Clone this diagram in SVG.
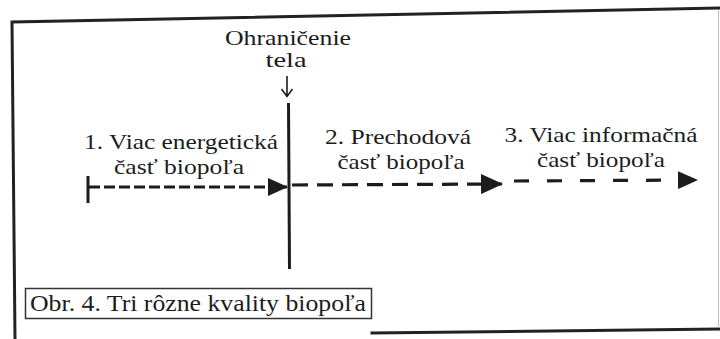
<svg xmlns="http://www.w3.org/2000/svg" width="720" height="339" viewBox="0 0 720 339">
  <style>
    .frame { fill: none; stroke: #222; stroke-width: 3; stroke-linecap: square; }
    .lbl { font-family: "Liberation Serif", "DejaVu Serif", serif; fill: #1c1c1c; text-anchor: middle; }
    .big { font-size: 22px; }
    .top { font-size: 21px; }
    .cap { font-size: 23px; }
    .solid { stroke: #1c1c1c; stroke-width: 3; fill: none; }
    .thin { stroke: #1c1c1c; stroke-width: 1.6; fill: none; }
    .dash { stroke: #1c1c1c; stroke-width: 3.2; fill: none; }
    .head { fill: #1c1c1c; }
  </style>
  <defs>
    <marker id="tri" viewBox="0 0 20 18" refX="19" refY="9" markerWidth="20" markerHeight="18" markerUnits="userSpaceOnUse" orient="auto">
      <path d="M0,0 L20,9 L0,18 Z" class="head"/>
    </marker>
    <marker id="tri-l" viewBox="0 0 22 20" refX="21" refY="10" markerWidth="22" markerHeight="20" markerUnits="userSpaceOnUse" orient="auto">
      <path d="M0,0 L22,10 L0,20 Z" class="head"/>
    </marker>
  </defs>

  <rect x="0" y="0" width="720" height="339" fill="#ffffff"/>

  <!-- outer frame -->
  <g id="frame">
    <path class="frame" d="M720,8 L12,22 L15,339"/>
    <path class="frame" d="M372,333 L720,329"/>
    <line x1="718.5" y1="10" x2="718.5" y2="328" stroke="#bbb" stroke-width="1"/>
  </g>

  <!-- body boundary -->
  <g id="boundary">
    <text class="lbl top" x="288" y="45" textLength="126" lengthAdjust="spacingAndGlyphs">Ohraničenie</text>
    <text class="lbl top" x="286" y="67" textLength="41" lengthAdjust="spacingAndGlyphs">tela</text>
    <path class="thin" d="M287,76 L287,96 M281.5,89 L287,96.5 L292.5,89"/>
    <line class="solid" x1="288.5" y1="103" x2="289.5" y2="269"/>
  </g>

  <!-- zone 1 -->
  <g id="zone1">
    <text class="lbl big" x="181" y="149" textLength="194" lengthAdjust="spacingAndGlyphs">1. Viac energetická</text>
    <text class="lbl big" x="179" y="174" textLength="130" lengthAdjust="spacingAndGlyphs">časť biopoľa</text>
  </g>

  <!-- zone 2 -->
  <g id="zone2">
    <text class="lbl big" x="398" y="144" textLength="146" lengthAdjust="spacingAndGlyphs">2. Prechodová</text>
    <text class="lbl big" x="401" y="169" textLength="127" lengthAdjust="spacingAndGlyphs">časť biopoľa</text>
  </g>

  <!-- zone 3 -->
  <g id="zone3">
    <text class="lbl big" x="601" y="142" textLength="193" lengthAdjust="spacingAndGlyphs">3. Viac informačná</text>
    <text class="lbl big" x="601" y="167" textLength="128" lengthAdjust="spacingAndGlyphs">časť biopoľa</text>
  </g>

  <!-- connectors -->
  <g id="connectors">
    <line class="solid" x1="88" y1="176" x2="88" y2="203"/>
    <line class="dash" x1="89" y1="187" x2="287" y2="187" stroke-dasharray="11 4" marker-end="url(#tri)"/>
    <line class="dash" x1="292" y1="185" x2="502" y2="184" stroke-dasharray="16 9" marker-end="url(#tri-l)"/>
    <line class="dash" x1="514" y1="181" x2="697" y2="180" stroke-dasharray="15 18" marker-end="url(#tri)"/>
  </g>

  <!-- caption -->
  <g id="caption">
    <rect x="25.5" y="288.5" width="346" height="30" fill="#fff" stroke="#333" stroke-width="1.5"/>
    <text class="lbl cap" x="198" y="311" textLength="336" lengthAdjust="spacingAndGlyphs">Obr. 4. Tri rôzne kvality biopoľa</text>
  </g>
</svg>
